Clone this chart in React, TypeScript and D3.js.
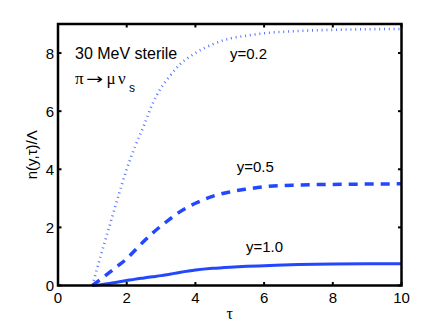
import React from "react";
import * as d3 from "d3";

const tau = [1, 1.25, 1.5, 1.75, 2, 2.25, 2.5, 2.75, 3, 3.25, 3.5, 4, 4.5, 5, 5.5, 6, 7, 8, 9, 10];
const nY02 = [0, 1.05, 2.05, 3.05, 4.0, 4.8, 5.5, 6.25, 6.8, 7.2, 7.55, 8.0, 8.3, 8.5, 8.6, 8.68, 8.76, 8.8, 8.82, 8.83];
const nY05 = [0, 0.22, 0.45, 0.68, 0.92, 1.22, 1.52, 1.8, 2.05, 2.28, 2.5, 2.83, 3.07, 3.22, 3.32, 3.4, 3.46, 3.48, 3.49, 3.5];
const nY10 = [0, 0.03, 0.07, 0.12, 0.17, 0.22, 0.26, 0.3, 0.34, 0.39, 0.44, 0.53, 0.59, 0.63, 0.66, 0.68, 0.72, 0.74, 0.75, 0.75];
const seriesLabels = ["y=0.2", "y=0.5", "y=1.0"];
const xTicks = [0, 2, 4, 6, 8, 10];
const yTicks = [0, 2, 4, 6, 8];

const W = 443;
const H = 324;
const margin = { left: 58, right: 41.5, top: 24, bottom: 38.5 };
const font = "'Liberation Sans', Arial, Helvetica, sans-serif";
const serif = "'Liberation Serif', 'Times New Roman', serif";
const blue = "#2346ff";

export default function App() {
  const x = d3.scaleLinear().domain([0, 10]).range([margin.left, W - margin.right]);
  const y = d3.scaleLinear().domain([0, 9]).range([H - margin.bottom, margin.top]);

  const line = d3
    .line<[number, number]>()
    .x((d) => x(d[0]))
    .y((d) => y(d[1]))
    .curve(d3.curveMonotoneX);

  const series = [
    { values: nY02, width: 2.6, dash: "1 3.8", opacity: 0.75 },
    { values: nY05, width: 3.5, dash: "9 7", opacity: 1 },
    { values: nY10, width: 3, dash: null, opacity: 1 },
  ];

  const x0 = x(0), x1 = x(10), y0 = y(0), y1 = y(9);
  const tl = 3.5;

  return (
    <svg width={W} height={H} style={{ position: "absolute", left: 0, top: 0 }} fontFamily={font}>
      <rect width={W} height={H} fill="white" />

      {series.map((s, i) => (
        <path
          key={i}
          d={line(tau.map((t, j) => [t, s.values[j]]) as [number, number][]) || ""}
          fill="none"
          stroke={blue}
          strokeOpacity={s.opacity}
          strokeWidth={s.width}
          strokeDasharray={s.dash || undefined}
        />
      ))}

      {/* box */}
      <rect x={x0} y={y1} width={x1 - x0} height={y0 - y1} fill="none" stroke="black" strokeWidth={2.5} />

      {xTicks.map((t) => (
        <g key={"x" + t}>
          <line x1={x(t)} x2={x(t)} y1={y0} y2={y0 - tl} stroke="black" strokeWidth={2} />
          <line x1={x(t)} x2={x(t)} y1={y1} y2={y1 + tl} stroke="black" strokeWidth={2} />
          <text x={x(t)} y={303} textAnchor="middle" fontSize={15}>
            {t}
          </text>
        </g>
      ))}
      {yTicks.map((t) => (
        <g key={"y" + t}>
          <line x1={x0} x2={x0 + tl} y1={y(t)} y2={y(t)} stroke="black" strokeWidth={2} />
          <line x1={x1} x2={x1 - tl} y1={y(t)} y2={y(t)} stroke="black" strokeWidth={2} />
          <text x={54} y={y(t)} textAnchor="end" dominantBaseline="central" fontSize={15}>
            {t}
          </text>
        </g>
      ))}

      <text x={(x0 + x1) / 2} y={319} textAnchor="middle" fontSize={16} fontFamily={serif}>
        τ
      </text>
      <text
        transform={`translate(37,${(y0 + y1) / 2}) rotate(-90)`}
        textAnchor="middle"
        fontSize={15}
      >
        n(y,τ)/Λ
      </text>

      <text x={75} y={59} fontSize={16}>
        30 MeV sterile
      </text>
      <g fontFamily={serif} fontSize={17}>
        <text x={75} y={84}>π</text>
        <text x={86} y={84} fontFamily="'DejaVu Sans', sans-serif" fontSize={15} textLength={17} lengthAdjust="spacingAndGlyphs">
          →
        </text>
        <text x={106.5} y={84}>μ</text>
        <text x={118} y={84}>ν</text>
        <text x={129} y={91.7} fontSize={12} fontFamily={font}>s</text>
      </g>

      <text x={230} y={59} fontSize={15}>{seriesLabels[0]}</text>
      <text x={236.7} y={171.5} fontSize={15}>{seriesLabels[1]}</text>
      <text x={246} y={251.7} fontSize={15}>{seriesLabels[2]}</text>
    </svg>
  );
}
